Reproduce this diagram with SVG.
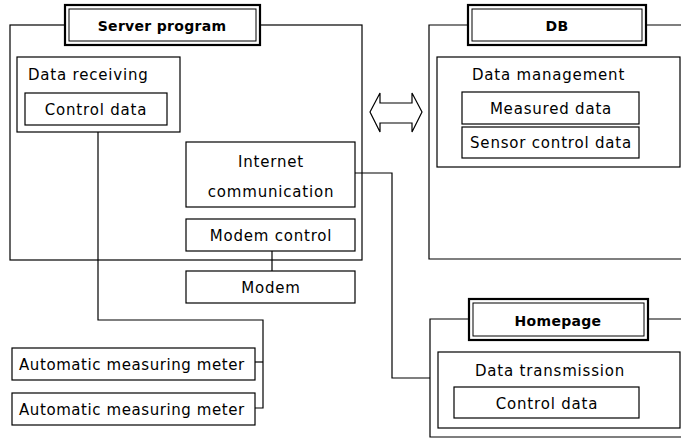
<svg xmlns="http://www.w3.org/2000/svg" width="681" height="438" viewBox="0 0 681 438">
<style>
.frame{fill:none;stroke:#000;stroke-width:1.2}
.box{fill:#fff;stroke:#000;stroke-width:1.2}
.tout{fill:#fff;stroke:#000;stroke-width:2.2}
.tin{fill:none;stroke:#000;stroke-width:1}
.wire{fill:none;stroke:#000;stroke-width:1.2}
text{font-family:"DejaVu Sans","Liberation Sans",sans-serif;font-size:15px;letter-spacing:0.8px;fill:#000}
.c{text-anchor:middle}
.t{font-weight:bold;font-size:14px;letter-spacing:0.3px}
</style>
<rect width="681" height="438" fill="#fff"/>
<g id="connectors">
  <polyline class="wire" points="98,132 98,320 263,320 263,408 255,408"/>
  <line class="wire" x1="255" y1="362" x2="263" y2="362"/>
  <line class="wire" x1="272" y1="251" x2="272" y2="271"/>
  <polyline class="wire" points="355,173 392,173 392,378 430,378"/>
  <path id="double-arrow" d="M370,112 L380,93 L380,103 L412,103 L412,93 L422,112 L412,132 L412,123 L380,123 L380,132 Z" fill="#fff" stroke="#000" stroke-width="1.2"/>
</g>
<g id="server-program">
  <rect class="frame" x="10" y="25" width="352" height="235"/>
  <rect class="tout" x="65" y="5" width="195" height="40"/>
  <rect class="tin" x="69" y="9" width="187" height="32"/>
  <text class="c t" x="162" y="31">Server program</text>
</g>
<g id="data-receiving">
  <rect class="box" x="17" y="57" width="163" height="75"/>
  <text x="28" y="80">Data receiving</text>
</g>
<g id="control-data-1">
  <rect class="box" x="25" y="93" width="142" height="32"/>
  <text class="c" x="96" y="115">Control data</text>
</g>
<g id="internet-communication">
  <rect class="box" x="186" y="142" width="169" height="65"/>
  <text class="c" x="271" y="167">Internet</text>
  <text class="c" x="271" y="197">communication</text>
</g>
<g id="modem-control">
  <rect class="box" x="186" y="219" width="169" height="32"/>
  <text class="c" x="271" y="241">Modem control</text>
</g>
<g id="modem">
  <rect class="box" x="186" y="271" width="169" height="32"/>
  <text class="c" x="271" y="293">Modem</text>
</g>
<g id="meter-1">
  <rect class="box" x="12" y="348" width="243" height="32"/>
  <text x="19" y="370" textLength="226">Automatic measuring meter</text>
</g>
<g id="meter-2">
  <rect class="box" x="12" y="393" width="243" height="32"/>
  <text x="19" y="415" textLength="226">Automatic measuring meter</text>
</g>
<g id="db">
  <polyline class="frame" points="690,25 429,25 429,259 690,259"/>
  <rect class="tout" x="468" y="5" width="178" height="40"/>
  <rect class="tin" x="472" y="9" width="170" height="32"/>
  <text class="c t" x="557" y="31">DB</text>
</g>
<g id="data-management">
  <rect class="box" x="437" y="57" width="243" height="110"/>
  <text x="472" y="80">Data management</text>
</g>
<g id="measured-data">
  <rect class="box" x="462" y="92" width="177" height="32"/>
  <text class="c" x="551" y="114">Measured data</text>
</g>
<g id="sensor-control-data">
  <rect class="box" x="462" y="127" width="177" height="31"/>
  <text class="c" x="551" y="148">Sensor control data</text>
</g>
<g id="homepage">
  <polyline class="frame" points="690,319 430,319 430,437 690,437"/>
  <rect class="tout" x="469" y="299" width="179" height="41"/>
  <rect class="tin" x="473" y="303" width="171" height="33"/>
  <text class="c t" x="558" y="326">Homepage</text>
</g>
<g id="data-transmission">
  <rect class="box" x="438" y="352" width="242" height="76"/>
  <text x="475" y="376">Data transmission</text>
</g>
<g id="control-data-2">
  <rect class="box" x="454" y="387" width="185" height="31"/>
  <text class="c" x="547" y="409">Control data</text>
</g>
</svg>
